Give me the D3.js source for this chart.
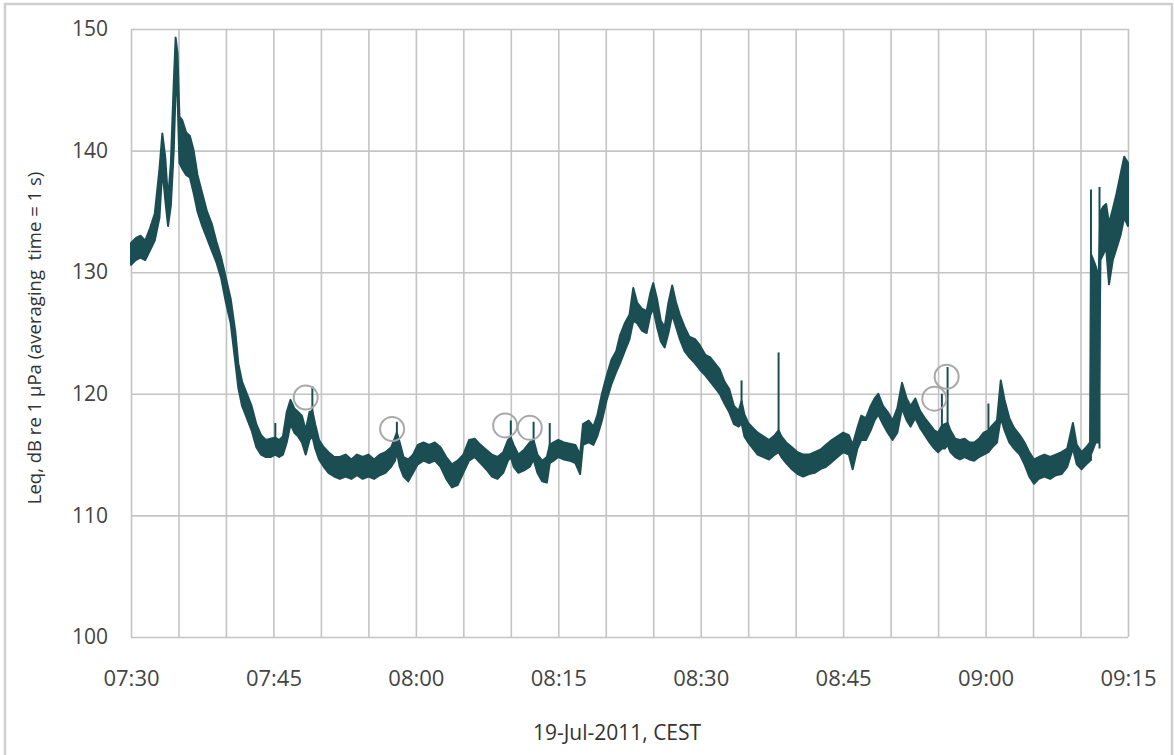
<!DOCTYPE html>
<html>
<head>
<meta charset="utf-8">
<script src="https://cdn.jsdelivr.net/npm/d3@7"></script>
<style>
  body { margin: 0; background: #fff; }
  svg { display: block; }
  text { font-family: 'Open Sans', sans-serif; }
</style>
</head>
<body>
<div id="chart"></div>
<script>
// Data (minutes after 07:30, dB band)
const timeLabels = ['07:30', '07:45', '08:00', '08:15', '08:30', '08:45', '09:00', '09:15']
const dbTicks = [100, 110, 120, 130, 140, 150]

const minutes = [
  0, 0.5, 1.0, 1.5, 2.0, 2.5, 3.0, 3.3, 3.6, 3.9,
  4.2, 4.5, 4.7, 4.9, 5.1, 5.4, 5.8, 6.2, 6.6, 7.0,
  7.5, 8.0, 8.5, 9.0, 9.5, 10.0, 10.5, 11.0, 11.3, 11.7,
  12.2, 12.7, 13.2, 13.7, 14.2, 14.7, 15.2, 15.6, 16.0, 16.4,
  16.8, 17.2, 17.6, 18.0, 18.4, 18.8, 19.1, 19.4, 19.8, 20.3,
  20.8, 21.4, 22.0, 22.6, 23.2, 23.8, 24.4, 25.0, 25.6, 26.2,
  26.8, 27.4, 27.8, 28.0, 28.3, 28.7, 29.2, 29.7, 30.2, 30.8,
  31.4, 32.0, 32.6, 33.2, 33.8, 34.4, 35.0, 35.6, 36.2, 36.8,
  37.4, 38.0, 38.6, 39.2, 39.7, 40.0, 40.3, 40.8, 41.4, 42.0,
  42.4, 42.8, 43.3, 43.8, 44.1, 44.5, 45.0, 45.6, 46.2, 46.8,
  47.3, 47.6, 48.2, 48.7, 49.1, 49.6, 50.1, 50.6, 51.1, 51.5,
  52.0, 52.5, 52.9, 53.3, 53.8, 54.3, 54.7, 55.0, 55.4, 55.8,
  56.2, 56.6, 57.0, 57.4, 57.8, 58.3, 58.8, 59.4, 59.9, 60.5,
  61.0, 61.5, 62.0, 62.5, 63.0, 63.5, 64.0, 64.3, 64.6, 65.0,
  65.5, 66.0, 66.6, 67.2, 67.8, 68.2, 68.5, 69.0, 69.6, 70.2,
  70.8, 71.4, 72.0, 72.6, 73.2, 73.8, 74.4, 75.0, 75.6, 76.0,
  76.5, 76.9, 77.4, 77.9, 78.3, 78.7, 79.2, 79.7, 80.2, 80.7,
  81.2, 81.7, 82.1, 82.6, 83.1, 83.6, 84.1, 84.6, 85.0, 85.4,
  85.7, 86.0, 86.3, 86.8, 87.3, 87.8, 88.3, 88.8, 89.3, 89.8,
  90.3, 90.7, 91.2, 91.6, 92.0, 92.5, 93.0, 93.6, 94.1, 94.6,
  95.1, 95.6, 96.2, 96.8, 97.4, 98.0, 98.6, 99.2, 99.6, 100.1,
  100.6, 101.0, 101.1, 101.6, 101.9, 102.1, 102.4, 102.7, 103.0, 103.4,
  103.8, 104.2, 104.6, 105.0
]

const lowDb = [
  130.6, 131.0, 131.2, 131.0, 131.8, 132.6, 134.5, 138.5, 136.0, 133.8,
  135.5, 140.0, 145.0, 144.5, 139.0, 138.5, 138.0, 137.8, 136.5, 135.0,
  133.8, 132.8, 131.8, 130.8, 129.5, 127.5, 125.8, 122.5, 120.5, 119.0,
  118.0, 117.0, 115.6, 115.0, 114.8, 114.8, 115.0, 114.8, 115.0, 116.0,
  117.5, 116.8, 116.5, 116.0, 115.0, 116.2, 116.5, 115.5, 114.6, 114.0,
  113.5, 113.2, 113.0, 113.2, 113.0, 113.3, 113.0, 113.2, 113.0, 113.3,
  113.5, 114.0, 114.5, 115.2, 114.0, 113.2, 112.8, 113.5, 114.2, 114.5,
  114.3, 114.5, 114.0, 113.0, 112.3, 112.5, 113.5, 114.5, 114.8, 114.3,
  113.8, 113.2, 113.0, 113.5, 114.5, 114.8, 114.0, 113.5, 113.7, 114.0,
  114.6, 113.5, 112.8, 112.7, 114.3, 114.5, 114.8, 114.6, 114.5, 114.3,
  113.4, 115.8, 116.0, 115.8, 116.5, 117.8, 119.5, 120.8, 121.8, 122.5,
  123.5, 124.5, 126.0, 125.8, 125.2, 125.0, 126.5, 127.0, 125.5, 124.3,
  123.8, 125.0, 126.5, 125.5, 124.5, 123.5, 123.0, 122.5, 122.0, 121.5,
  121.0, 120.5, 120.0, 119.2, 118.5, 117.5, 117.3, 117.6, 116.5, 116.0,
  115.5, 115.0, 114.8, 114.6, 115.0, 115.2, 114.8, 114.3, 113.8, 113.4,
  113.2, 113.4, 113.5, 113.8, 114.0, 114.4, 114.8, 115.2, 115.0, 113.8,
  115.5, 116.2, 116.2, 117.0, 117.8, 118.3, 117.5, 116.8, 116.2, 116.8,
  118.8, 117.8, 117.3, 118.0, 117.2, 116.6, 116.0, 115.5, 115.2, 115.5,
  115.5, 115.8, 115.2, 114.8, 114.6, 114.8, 114.6, 114.5, 114.8, 115.0,
  115.2, 115.6, 116.0, 118.0, 117.0, 116.0, 115.5, 115.0, 114.2, 113.2,
  112.6, 113.0, 113.2, 113.0, 113.3, 113.4, 114.0, 115.5, 114.2, 113.8,
  114.2, 114.5, 115.0, 116.0, 116.0, 131.0, 131.5, 132.0, 129.0, 131.0,
  132.0, 133.0, 134.5, 133.8
]

const highDb = [
  132.4, 132.8, 133.0, 132.6, 133.6, 134.8, 138.5, 141.4, 139.5, 136.0,
  139.0, 145.5, 149.3, 148.0, 142.8, 142.5, 141.5, 141.2, 140.0, 138.0,
  136.5, 135.0, 134.0, 132.5, 131.2, 129.5, 127.8, 125.0, 122.5, 121.0,
  120.0, 119.0, 117.5, 116.6, 116.2, 116.3, 116.4, 116.2, 116.5, 118.5,
  119.5, 118.8, 118.5, 118.2, 117.0, 118.5, 118.6, 117.5, 116.2, 115.6,
  115.2, 114.8, 114.8, 115.0, 114.6, 115.0, 114.8, 115.0, 114.6, 115.0,
  115.2, 115.6, 116.4, 116.8, 116.0, 114.8, 114.6, 115.0, 115.8, 116.0,
  115.8, 116.0, 115.6, 114.8, 114.2, 114.5, 115.0, 116.2, 116.3, 115.8,
  115.4, 115.0, 114.8, 115.2, 116.2, 116.4, 115.8, 115.0, 115.4, 116.0,
  116.2, 115.0, 114.5, 114.8, 115.8, 116.0, 116.2, 116.0, 115.9, 115.8,
  115.0, 117.5, 117.8, 117.3, 118.2, 120.0, 121.5, 122.8, 123.5, 124.8,
  125.8, 126.5, 128.7, 127.5, 127.0, 126.8, 128.3, 129.1, 127.8, 126.0,
  125.5, 127.5, 128.9, 127.5, 126.5, 125.5, 124.7, 124.5, 124.0, 123.2,
  123.0, 122.5, 122.0, 121.0, 120.4, 119.0, 118.6, 119.4, 118.3, 117.6,
  117.2, 116.8, 116.5, 116.2, 116.6, 117.0, 116.5, 116.0, 115.6, 115.2,
  115.0, 115.0, 115.2, 115.4, 115.8, 116.2, 116.5, 116.8, 116.6, 115.8,
  117.2, 118.2, 118.0, 119.0, 119.6, 120.0, 119.0, 118.5, 117.8, 118.8,
  120.9, 119.6, 119.0, 119.6, 118.6, 118.0, 117.5, 117.0, 116.8, 117.4,
  117.5, 117.6, 117.0, 116.3, 116.2, 116.3, 116.0, 116.0, 116.3, 116.8,
  117.0, 117.4, 117.8, 121.1, 119.5, 118.0, 117.2, 116.6, 116.0, 115.2,
  114.6, 114.8, 115.0, 114.8, 115.0, 115.2, 115.5, 117.6, 115.8, 115.2,
  115.6, 116.0, 131.5, 130.5, 129.5, 135.0, 135.4, 135.6, 134.0, 135.2,
  136.5, 138.0, 139.5, 139.0
]

// Narrow one-second spikes
const spikeMinutes = [15.2, 19.1, 28.0, 40.0, 42.4, 44.1, 64.3, 68.2, 85.4, 86.0, 90.3, 101.1, 102.0]
const spikeBaseDb = [116.0, 117.5, 116.0, 115.8, 115.8, 115.5, 118.5, 116.5, 116.8, 117.0, 116.5, 114.5, 115.5]
const spikeTopDb = [117.6, 120.6, 117.7, 117.8, 117.7, 117.6, 121.1, 123.4, 120.0, 122.2, 119.2, 136.8, 137.0]

// Grey rings marking events
const ringMinutes = [18.4, 27.5, 39.4, 42.0, 84.6, 85.9]
const ringDb = [119.7, 117.1, 117.4, 117.2, 119.6, 121.4]

// Dimensions
let dimensions = {
  width: 1174,
  height: 755,
  margin: { top: 29, left: 131, right: 46, bottom: 118 }
}
dimensions.ctrWidth = dimensions.width - dimensions.margin.left - dimensions.margin.right
dimensions.ctrHeight = dimensions.height - dimensions.margin.top - dimensions.margin.bottom

const parseTime = d3.timeParse('%H:%M')
const start = parseTime('07:30')
const toDate = (m) => new Date(start.getTime() + m * 60000)

const series = minutes.map((m, i) => ({ date: toDate(m), lo: lowDb[i], hi: highDb[i] }))
const spikes = spikeMinutes.map((m, i) => ({ date: toDate(m), base: spikeBaseDb[i], top: spikeTopDb[i] }))
const rings = ringMinutes.map((m, i) => ({ date: toDate(m), db: ringDb[i] }))

// Draw image
const svg = d3.select('#chart')
  .append('svg')
  .attr('width', dimensions.width)
  .attr('height', dimensions.height)

svg.append('rect')
  .attr('x', 5)
  .attr('y', 4)
  .attr('width', 1167)
  .attr('height', 770)
  .attr('fill', 'none')
  .attr('stroke', '#cfcfcf')
  .attr('stroke-width', 2.5)

const ctr = svg.append('g')
  .attr('transform', `translate(${dimensions.margin.left}, ${dimensions.margin.top})`)

// Scales
const xScale = d3.scaleTime()
  .domain([start, parseTime('09:15')])
  .range([0, dimensions.ctrWidth])

const yScale = d3.scaleLinear()
  .domain([100, 150])
  .range([dimensions.ctrHeight, 0])

// Grid
const xGrid = ctr.append('g')
  .attr('transform', `translate(0, ${dimensions.ctrHeight})`)
  .call(d3.axisBottom(xScale)
    .ticks(d3.timeMinute.every(5))
    .tickSize(-dimensions.ctrHeight)
    .tickFormat(''))
xGrid.select('.domain').remove()
xGrid.selectAll('line').attr('stroke', '#c4c4c4').attr('stroke-width', 1.6)

const yGrid = ctr.append('g')
  .call(d3.axisLeft(yScale)
    .tickValues(dbTicks)
    .tickSize(-dimensions.ctrWidth)
    .tickFormat(''))
yGrid.select('.domain').remove()
yGrid.selectAll('line').attr('stroke', '#c4c4c4').attr('stroke-width', 1.6)

// Axes labels
const xAxis = d3.axisBottom(xScale)
  .tickValues(timeLabels.map(parseTime))
  .tickFormat(d3.timeFormat('%H:%M'))
  .tickSize(0)
  .tickPadding(33)

const xAxisGroup = ctr.append('g')
  .attr('transform', `translate(0, ${dimensions.ctrHeight})`)
  .call(xAxis)
xAxisGroup.select('.domain').remove()
xAxisGroup.selectAll('text')
  .attr('fill', '#444')
  .style('font-size', '22px')

xAxisGroup.append('text')
  .text('19-Jul-2011, CEST')
  .attr('fill', '#333')
  .attr('x', 486)
  .attr('y', 103)
  .attr('text-anchor', 'middle')
  .style('font-size', '21px')

const yAxis = d3.axisLeft(yScale)
  .tickValues(dbTicks)
  .tickSize(0)
  .tickPadding(23)

const yAxisGroup = ctr.append('g').call(yAxis)
yAxisGroup.select('.domain').remove()
yAxisGroup.selectAll('text')
  .attr('fill', '#444')
  .style('font-size', '21px')

yAxisGroup.append('text')
  .text('Leq, dB re 1 µPa (averaging  time = 1 s)')
  .attr('fill', '#333')
  .attr('x', -309)
  .attr('y', -90)
  .attr('transform', 'rotate(-90)')
  .attr('text-anchor', 'middle')
  .style('font-size', '18.5px')
  .style('white-space', 'pre')

// Noise band
const band = d3.area()
  .x(d => xScale(d.date))
  .y0(d => yScale(d.lo))
  .y1(d => yScale(d.hi))

ctr.append('path')
  .datum(series)
  .attr('d', band)
  .attr('fill', '#1b4e53')
  .attr('stroke', '#1b4e53')
  .attr('stroke-width', 2)
  .attr('stroke-linejoin', 'round')

ctr.append('g')
  .selectAll('line')
  .data(spikes)
  .join('line')
  .attr('x1', d => xScale(d.date))
  .attr('x2', d => xScale(d.date))
  .attr('y1', d => yScale(d.base))
  .attr('y2', d => yScale(d.top))
  .attr('stroke', '#1b4e53')
  .attr('stroke-width', 2)

ctr.append('g')
  .selectAll('circle')
  .data(rings)
  .join('circle')
  .attr('cx', d => xScale(d.date))
  .attr('cy', d => yScale(d.db))
  .attr('r', 12)
  .attr('fill', 'none')
  .attr('stroke', '#a8a8a8')
  .attr('stroke-width', 2)
</script>
</body>
</html>
